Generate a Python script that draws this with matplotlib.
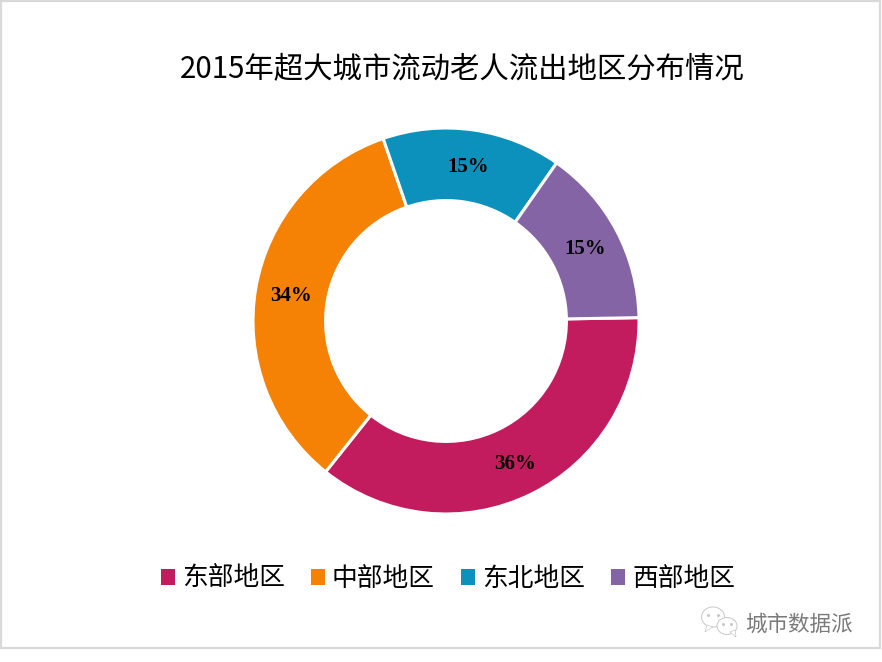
import matplotlib
matplotlib.use('Agg')
import matplotlib.pyplot as plt
from matplotlib.patches import Ellipse, Patch, Polygon, Rectangle

plt.rcParams['font.family'] = ['Noto Sans CJK SC', 'DejaVu Sans']

# values
regions = ['东部地区', '中部地区', '东北地区', '西部地区']
shares = [36, 34, 15, 15]
colors = ['#C21B5E', '#F58105', '#0B91BC', '#8464A4']
title = '2015年超大城市流动老人流出地区分布情况'
watermark = '城市数据派'

W, H = 882, 662
fig = plt.figure(figsize=(W / 100, H / 100), dpi=100, facecolor='white')

# overlay in pixel coordinates for frame, title and watermark
bg = fig.add_axes([0, 0, 1, 1])
bg.set_xlim(0, W)
bg.set_ylim(H, 0)
bg.axis('off')
bg.add_patch(Rectangle((1, 1), 879, 647, fill=False, edgecolor='#D9D9D9', linewidth=1.6))
bg.text(462.5, 69, title, fontsize=21.2, ha='center', va='center', color='black')
bg.text(799, 625, watermark, fontsize=15.5, ha='center', va='center', color='#7A7A7A',
        fontweight='light')

# little chat bubbles next to the watermark
for cx, cy, w, h, tail in [(713, 617, 23, 20, [(707, 625), (705, 632), (713, 627)]),
                           (727, 626, 20, 17, [(730, 632), (736, 637), (735, 630)])]:
    bg.add_patch(Ellipse((cx, cy), w, h, facecolor='white', edgecolor='#C8C8C8', linewidth=0.7))
    bg.add_patch(Polygon(tail, closed=True, facecolor='white', edgecolor='#C8C8C8', linewidth=0.5))
    bg.plot([cx - w * 0.2, cx + w * 0.2], [cy - 2, cy - 2], ls='none', marker='o', ms=1.2,
            color='#C8C8C8')

# donut: centre (446, 321), outer radius 193 px
cx, cy, r = 446, 321, 193
ax = fig.add_axes([(cx - r) / W, (H - cy - r) / H, 2 * r / W, 2 * r / H])
wedges, texts, autotexts = ax.pie(
    shares, colors=colors, startangle=1, counterclock=False, radius=1,
    autopct=lambda p: '%.0f%%' % p, pctdistance=0.815,
    wedgeprops={'width': 0.376, 'edgecolor': 'white', 'linewidth': 2.2},
    textprops={'family': 'Liberation Serif', 'fontweight': 'bold', 'fontsize': 15, 'color': 'black'},
)
for t in autotexts:
    x, y = t.get_position()
    t.set_position((x, y - 2 / r))
ax.set_xlim(-1, 1)
ax.set_ylim(-1, 1)

handles = [Patch(facecolor=c, edgecolor='none') for c in colors]
fig.legend(handles, regions, ncol=4, loc='center', bbox_to_anchor=(448 / W, 1 - 579 / H),
           frameon=False, fontsize=18.5, handlelength=0.55, handleheight=0.55,
           handletextpad=0.27, columnspacing=1.015, borderpad=0)

fig.savefig('out.png', dpi=100)
